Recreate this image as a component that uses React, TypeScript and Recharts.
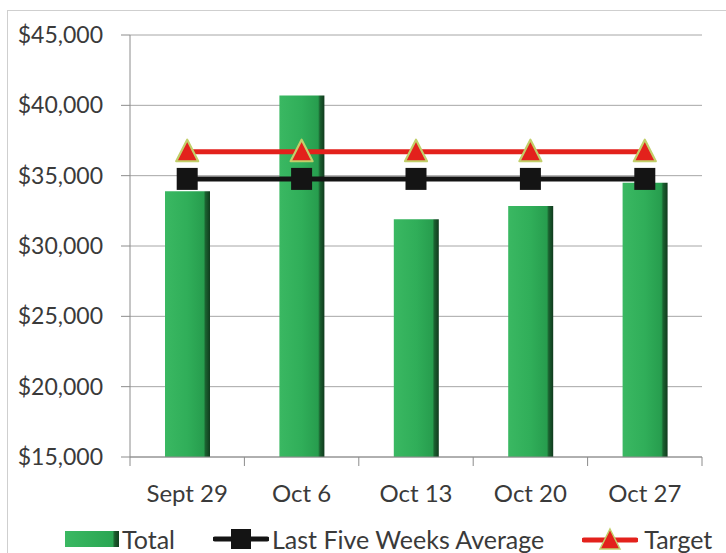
import React from 'react';
import { ComposedChart, Bar, Line, XAxis, YAxis, CartesianGrid, Legend } from 'recharts';

const categories = ['Sept 29', 'Oct 6', 'Oct 13', 'Oct 20', 'Oct 27'];
const totals = [33900, 40700, 31900, 32850, 34500];
const averages = [34770, 34770, 34770, 34770, 34770];
const targets = [36700, 36700, 36700, 36700, 36700];
const yTicks = [15000, 20000, 25000, 30000, 35000, 40000, 45000];
const legendOrder = ['total', 'avg', 'target'];

const data = categories.map((c, i) => ({
  name: c,
  total: totals[i],
  avg: averages[i],
  target: targets[i],
}));

const FONT = 'Lato, "Open Sans", sans-serif';
const TEXT = '#3a3a3a';
const AXIS = '#8c8c8c';
const TICK_SIZE = 9;
const TICK_MARGIN = 19;

const SquareDot = (props: any) => {
  const { cx, cy } = props;
  if (cx == null || cy == null) return null;
  return <rect x={cx - 10.5} y={cy - 11} width={21} height={22} fill="#141414" />;
};

const TriangleDot = (props: any) => {
  const { cx, cy } = props;
  if (cx == null || cy == null) return null;
  return (
    <polygon
      points={`${cx},${cy - 12} ${cx + 11},${cy + 9.5} ${cx - 11},${cy + 9.5}`}
      fill="#e3211c"
      stroke="#c2cf6a"
      strokeWidth={2.2}
      strokeLinejoin="round"
    />
  );
};

const CatTick = (props: any) => {
  const { x, y, payload, width, visibleTicksCount, index } = props;
  const band = width && visibleTicksCount ? width / visibleTicksCount : 0;
  const axisY = y - TICK_SIZE - TICK_MARGIN;
  return (
    <g>
      {band > 0 && (
        <line x1={x - band / 2} y1={axisY} x2={x - band / 2} y2={axisY + TICK_SIZE} stroke={AXIS} />
      )}
      {band > 0 && index === visibleTicksCount - 1 && (
        <line x1={x + band / 2} y1={axisY} x2={x + band / 2} y2={axisY + TICK_SIZE} stroke={AXIS} />
      )}
      <text
        x={x}
        y={y}
        dy="0.71em"
        textAnchor="middle"
        fill={TEXT}
        fontSize={24}
        fontFamily={FONT}
      >
        {payload.value}
      </text>
    </g>
  );
};

const LegendContent = (props: any) => {
  const payload = [...(props.payload || [])].sort(
    (a: any, b: any) => legendOrder.indexOf(a.dataKey) - legendOrder.indexOf(b.dataKey)
  );
  return (
    <div
      style={{
        display: 'flex',
        alignItems: 'center',
        paddingLeft: 65,
        fontFamily: FONT,
        fontSize: 25,
        color: TEXT,
        whiteSpace: 'nowrap',
      }}
    >
      {payload.map((entry: any, i: number) => {
        let icon: React.ReactNode = null;
        if (entry.dataKey === 'total') {
          icon = (
            <svg width={54} height={16} style={{ marginRight: 3 }}>
              <defs>
                <linearGradient id="legGrad" x1="0" y1="0" x2="1" y2="0">
                  <stop offset="0%" stopColor="#3ab862" />
                  <stop offset="88%" stopColor="#2aa653" />
                  <stop offset="92%" stopColor="#1a5c2c" />
                  <stop offset="100%" stopColor="#123f1f" />
                </linearGradient>
              </defs>
              <rect x={0} y={0} width={54} height={16} fill="url(#legGrad)" />
            </svg>
          );
        } else if (entry.dataKey === 'avg') {
          icon = (
            <svg width={56} height={24} style={{ marginRight: 3 }}>
              <line x1={2} y1={12} x2={54} y2={12} stroke="#141414" strokeWidth={5} strokeLinecap="round" />
              <rect x={18} y={2} width={20} height={20} fill="#141414" />
            </svg>
          );
        } else {
          icon = (
            <svg width={56} height={24} style={{ marginRight: 6 }}>
              <line x1={2} y1={13} x2={54} y2={13} stroke="#e3211c" strokeWidth={5} strokeLinecap="round" />
              <polygon points="28,2 38,22 18,22" fill="#e3211c" stroke="#c2cf6a" strokeWidth={1.5} />
            </svg>
          );
        }
        return (
          <div key={i} style={{ display: 'flex', alignItems: 'center', marginRight: 38 }}>
            {icon}
            <span>{entry.value}</span>
          </div>
        );
      })}
    </div>
  );
};

export default function App() {
  return (
    <div
      style={{
        position: 'fixed',
        top: 0,
        left: 0,
        width: 726,
        height: 553,
        overflow: 'hidden',
        background: '#ffffff',
      }}
    >
      <div
        style={{
          position: 'absolute',
          left: 7,
          top: 10,
          width: 800,
          height: 700,
          border: '1px solid #cfcfcf',
        }}
      />
      <div style={{ position: 'absolute', left: 0, top: 0, width: 726, height: 553 }}>
        <ComposedChart
          width={726}
          height={553}
          data={data}
          margin={{ top: 35, right: 24, left: 0, bottom: 0 }}
        >
          <defs>
            <linearGradient id="barGrad" x1="0" y1="0" x2="1" y2="0">
              <stop offset="0%" stopColor="#3ab862" />
              <stop offset="50%" stopColor="#30ae59" />
              <stop offset="86%" stopColor="#279d4e" />
              <stop offset="90%" stopColor="#1b6130" />
              <stop offset="100%" stopColor="#103a1d" />
            </linearGradient>
          </defs>
          <CartesianGrid vertical={false} stroke="#a6a6a6" strokeWidth={1} />
          <XAxis
            dataKey="name"
            axisLine={{ stroke: AXIS }}
            tickLine={false}
            tickSize={TICK_SIZE}
            tickMargin={TICK_MARGIN}
            height={96}
            tick={<CatTick />}
            interval={0}
          />
          <YAxis
            domain={[15000, 45000]}
            ticks={yTicks}
            width={130}
            tickSize={9}
            tickMargin={18}
            axisLine={{ stroke: AXIS }}
            tickLine={{ stroke: AXIS }}
            tick={{ fill: TEXT, fontSize: 23, fontFamily: FONT }}
            tickFormatter={(v: number) => '$' + v.toLocaleString('en-US')}
            allowDataOverflow
          />
          <Bar
            dataKey="total"
            name="Total"
            barSize={45}
            fill="url(#barGrad)"
            isAnimationActive={false}
          />
          <Line
            dataKey="avg"
            name="Last Five Weeks Average"
            stroke="#141414"
            strokeWidth={5}
            dot={<SquareDot />}
            activeDot={false}
            isAnimationActive={false}
          />
          <Line
            dataKey="target"
            name="Target"
            stroke="#e3211c"
            strokeWidth={5}
            dot={<TriangleDot />}
            activeDot={false}
            isAnimationActive={false}
          />
          <Legend
            layout="horizontal"
            verticalAlign="middle"
            align="center"
            content={<LegendContent />}
            wrapperStyle={{ position: 'absolute', top: 524, left: 0, width: 726 }}
          />
        </ComposedChart>
      </div>
    </div>
  );
}
